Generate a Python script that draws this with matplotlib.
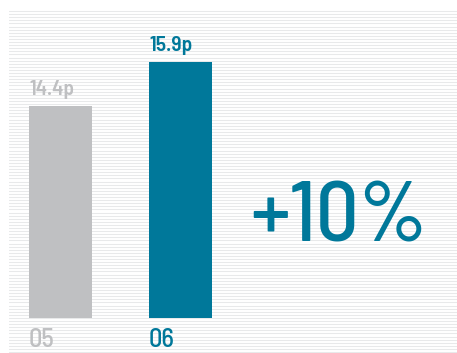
import matplotlib
matplotlib.use("Agg")
import matplotlib.pyplot as plt
import numpy as np

years = ["05", "06"]
values = [14.4, 15.9]
value_labels = ["14.4p", "15.9p"]
change_label = "+10%"

GREY = "#bfc0c2"
BLUE = "#00789a"
STRIPE = "#e8e9ea"
colors = [GREY, BLUE]
FAMILY = ["Barlow Semi Condensed", "DejaVu Sans"]

W, H = 457, 353
fig = plt.figure(figsize=(W / 100, H / 100), dpi=100)

# striped background panel
bg = fig.add_axes([9 / W, 0, 1 - 9 / W, (H - 10) / H])
bg.set_xlim(0, 1)
bg.set_ylim(0, H - 10)
for y in np.arange(1, H - 10, 3.1):
    bg.axhline(y, color=STRIPE, linewidth=0.75)
bg.axis("off")

# bars
ax = fig.add_axes([0, (H - 318) / H, 1, 318 / H])
ax.patch.set_alpha(0)
y0 = 7.18
ax.set_ylim(y0, y0 + 318 / 29.36)
ax.set_xlim(-60.5 / 120, (W - 60.5) / 120)
x = np.arange(len(values))
bars = ax.bar(x, np.array(values) - y0, bottom=y0, width=63 / 120, color=colors)
for xi, v, lab, c in zip(x, values, value_labels, colors):
    ax.text(xi - 31 / 120, v + 0.25, lab, ha="left", va="bottom", color=c,
            fontsize=15.5, family=FAMILY, fontweight="semibold")
    ax.text(xi - 32 / 120, y0 - 0.35, years[xi], ha="left", va="top", color=c,
            fontsize=19, family=FAMILY, fontweight="medium", clip_on=False)
ax.axis("off")

fig.text(250 / W, 1 - 241 / H, change_label, ha="left", va="baseline", color=BLUE,
         fontsize=61, family=FAMILY, fontweight="medium")

fig.savefig("out.png", dpi=100)
